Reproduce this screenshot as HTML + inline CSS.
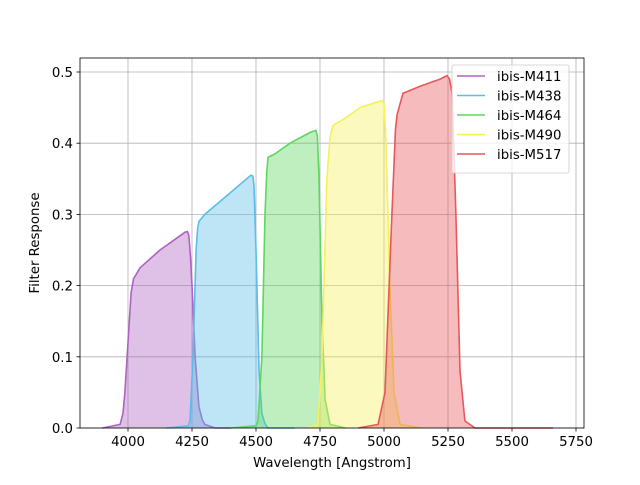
<!DOCTYPE html>
<html><head><meta charset="utf-8"><style>body{margin:0;background:#fff}svg{font-family:"DejaVu Sans","Liberation Sans",sans-serif}</style></head>
<body>
<svg id="c" width="640" height="480" xmlns="http://www.w3.org/2000/svg"></svg>
<script>
const names=["ibis-M411","ibis-M438","ibis-M464","ibis-M490","ibis-M517"];
const colors=["#b062c2","#5bbde8","#5fd65f","#f5f05c","#e8575a"];
const wl411=[3900,3969,3980,3988,4000,4012,4022,4031,4047,4125,4223,4232,4238,4244,4250,4262,4277,4290,4300,4340,4400];
const r411=[0,0.005,0.02,0.05,0.12,0.19,0.21,0.215,0.225,0.25,0.275,0.276,0.27,0.24,0.2,0.1,0.03,0.012,0.005,0,0];
const wl438=[4150,4235,4242,4254,4266,4272,4277,4300,4480,4488,4492,4500,4512,4523,4535,4547,4650];
const r438=[0,0.003,0.01,0.1,0.25,0.28,0.29,0.3,0.355,0.354,0.34,0.25,0.08,0.02,0.006,0,0];
const wl464=[4400,4500,4508,4523,4535,4542,4547,4574,4633,4711,4734,4740,4746,4758,4770,4789,4850];
const r464=[0,0.003,0.01,0.1,0.3,0.36,0.38,0.385,0.4,0.415,0.418,0.41,0.35,0.15,0.04,0.005,0];
const wl490=[4700,4742,4758,4777,4790,4801,4848,4906,4992,5000,5008,5023,5039,5063,5150];
const r490=[0,0.005,0.1,0.35,0.41,0.425,0.435,0.45,0.46,0.455,0.4,0.2,0.05,0.005,0];
const wl517=[4900,4977,5004,5031,5045,5051,5074,5141,5219,5246,5256,5266,5281,5297,5316,5355,5660];
const r517=[0,0.005,0.05,0.3,0.42,0.44,0.47,0.48,0.49,0.495,0.49,0.47,0.3,0.08,0.01,0,0];
const xTicks=[4000,4250,4500,4750,5000,5250,5500,5750];
const yTicks=[0,0.1,0.2,0.3,0.4,0.5];
const WL=[wl411,wl438,wl464,wl490,wl517],R=[r411,r438,r464,r490,r517];
const L=80,Rt=584,T=58,B=428;
const x=v=>128+(v-4000)*0.256;
const y=v=>428-v*712;
const svg=document.getElementById('c');const NS="http://www.w3.org/2000/svg";
function mk(t,a,p){const e=document.createElementNS(NS,t);for(const k in a)e.setAttribute(k,a[k]);(p||svg).appendChild(e);return e;}
let e;
e=mk('rect',{x:L,y:T,width:Rt-L,height:B-T,fill:'#fff'});


xTicks.forEach(v=>{const px=x(v);
 e=mk('line',{x1:px,x2:px,y1:T,y2:B,stroke:'#b0b0b0','stroke-width':0.8});
 
 
 mk('line',{x1:px,x2:px,y1:B,y2:B+3.5,stroke:'#000','stroke-width':0.8});
 e=mk('text',{x:px,y:B+18,'text-anchor':'middle','font-size':13.3});e.textContent=v;
 
 });
yTicks.forEach(v=>{const py=y(v);
 e=mk('line',{x1:L,x2:Rt,y1:py,y2:py,stroke:'#b0b0b0','stroke-width':0.8});
 
 
 mk('line',{x1:L-3.5,x2:L,y1:py,y2:py,stroke:'#000','stroke-width':0.8});
 e=mk('text',{x:L-7,y:py+5,'text-anchor':'end','font-size':13.3});e.textContent=v.toFixed(1);
 
 });
for(let i=0;i<5;i++){
 const pts=WL[i].map((w,j)=>x(w).toFixed(1)+','+y(R[i][j]).toFixed(1));
 e=mk('polygon',{points:x(WL[i][0])+','+y(0)+' '+pts.join(' ')+' '+x(WL[i][WL[i].length-1])+','+y(0),fill:colors[i],'fill-opacity':0.4,stroke:'none'});
 
 
 e=mk('polyline',{points:pts.join(' '),fill:'none',stroke:colors[i],'stroke-width':1.6,'stroke-linejoin':'round'});
 
 
}
e=mk('rect',{x:L,y:T,width:Rt-L,height:B-T,fill:'none',stroke:'#000','stroke-width':0.8});


e=mk('text',{x:332,y:467,'text-anchor':'middle','font-size':13.3});e.textContent='Wavelength [Angstrom]';


e=mk('text',{x:0,y:0,'text-anchor':'middle','font-size':13.3,transform:'translate(39,243) rotate(-90)'});e.textContent='Filter Response';


const lg=mk('g',{});


mk('rect',{x:452,y:65,width:117,height:108,rx:2,fill:'#fff','fill-opacity':0.8,stroke:'#cccccc','stroke-width':0.8},lg);
names.forEach((n,i)=>{const ly=76+i*19.5;
 const g=mk('g',{},lg);
 
 
 mk('line',{x1:457,x2:485,y1:ly,y2:ly,stroke:colors[i],'stroke-width':1.6},g);
 const t=mk('text',{x:497,y:ly+5,'font-size':13.3},g);t.textContent=n;});
</script>
</body></html>
